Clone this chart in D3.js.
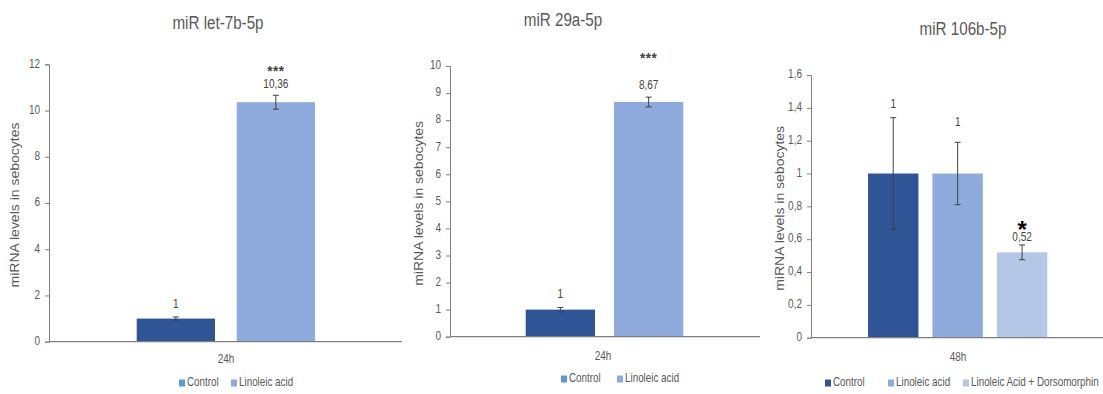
<!DOCTYPE html>
<html>
<head>
<meta charset="utf-8">
<script src="https://cdn.jsdelivr.net/npm/d3@7"></script>
<style>
  body { margin: 0; background: #fff; }
  svg text { font-family: "Liberation Sans", Arial, sans-serif; fill: #595959; }
</style>
</head>
<body>
<div id="chart"></div>
<script>
// Chart data
const titles = ["miR let-7b-5p", "miR 29a-5p", "miR 106b-5p"];
const timeLabels = ["24h", "24h", "48h"];
const seriesTwo = ["Control", "Linoleic acid"];
const seriesThree = ["Control", "Linoleic acid", "Linoleic Acid + Dorsomorphin"];

const let7bValues = [1, 10.36];
const let7bErrors = [0.07, 0.3];
const let7bLabels = ["1", "10,36"];
const let7bStars = ["", "***"];
const let7bTicks = [0, 2, 4, 6, 8, 10, 12];

const mir29aValues = [1, 8.67];
const mir29aErrors = [0.08, 0.18];
const mir29aLabels = ["1", "8,67"];
const mir29aStars = ["", "***"];
const mir29aTicks = [0, 1, 2, 3, 4, 5, 6, 7, 8, 9, 10];

const mir106bValues = [1, 1, 0.52];
const mir106bErrors = [0.34, 0.19, 0.045];
const mir106bLabels = ["1", "1", "0,52"];
const mir106bStars = ["", "", "*"];
const mir106bTicks = [0, 0.2, 0.4, 0.6, 0.8, 1, 1.2, 1.4, 1.6];

// Colours
const barColors = ["#2F5597", "#8FAADC", "#B4C7E7"];
const legendColors2 = ["#5B9BD5", "#8FAADC"];   // the two-series legends show a lighter swatch
const legendColors3 = ["#2F5597", "#8FAADC", "#B4C7E7"];

// the source figure is squeezed horizontally, so the text is too
const SQ = 0.8;

const width = 1103, height = 394;
const svg = d3.select("#chart").append("svg")
    .attr("width", width)
    .attr("height", height);

// Layout for each panel
const panels = [
    {
        title: titles[0], titleX: 218, titleY: 24,
        values: let7bValues, errors: let7bErrors, labels: let7bLabels, stars: let7bStars,
        ticks: let7bTicks, series: seriesTwo, legendColors: legendColors2, time: timeLabels[0],
        axisX: 49, axisEnd: 402, top: 64.3, bottom: 341.7,
        bars: [136.7, 315], gap: 21.7, labelGaps: [12, 11], starGap: 17,
        yLabelX: 16, timeX: 226, timeY: 360,
        legendY: 383, legendX: [179, 231]
    },
    {
        title: titles[1], titleX: 563, titleY: 21,
        values: mir29aValues, errors: mir29aErrors, labels: mir29aLabels, stars: mir29aStars,
        ticks: mir29aTicks, series: seriesTwo, legendColors: legendColors2, time: timeLabels[1],
        axisX: 450, axisEnd: 760, top: 66, bottom: 336.7,
        bars: [525.7, 683.3], gap: 19, labelGaps: [13, 11], starGap: 31.5,
        yLabelX: 420, timeX: 603, timeY: 357,
        legendY: 379, legendX: [561, 617]
    },
    {
        title: titles[2], titleX: 963, titleY: 30,
        values: mir106bValues, errors: mir106bErrors, labels: mir106bLabels, stars: mir106bStars,
        ticks: mir106bTicks, series: seriesThree, legendColors: legendColors3, time: timeLabels[2],
        axisX: 811, axisEnd: 1103, top: 75, bottom: 337.7,
        bars: [868, 1047.3], gap: 14, labelGaps: [13, 20, 7], starGap: 13,
        yLabelX: 781, timeX: 958, timeY: 358,
        legendY: 383, legendX: [825, 888, 963]
    }
];

const fmt = d => String(d).replace(".", ",");

// horizontal text, squeezed around its anchor point
function addText(g, x, y, str, size, anchor, color, sq) {
    return g.append("text")
        .attr("transform", `translate(${x},${y}) scale(${sq === undefined ? SQ : sq},1)`)
        .attr("text-anchor", anchor || "middle")
        .attr("dominant-baseline", "middle")
        .style("font-size", size + "px")
        .style("fill", color || "#595959")
        .text(str);
}

panels.forEach(p => {
    const g = svg.append("g");
    const n = p.values.length;

    const y = d3.scaleLinear()
        .domain([0, d3.max(p.ticks)])
        .range([p.bottom, p.top]);

    const span = p.bars[1] - p.bars[0] + p.gap;
    const inner = p.gap / (span / n);
    const x = d3.scaleBand()
        .domain(d3.range(n))
        .range([p.bars[0] - p.gap / 2, p.bars[1] + p.gap / 2])
        .paddingInner(inner)
        .paddingOuter(inner / 2);

    // Title
    addText(g, p.titleX, p.titleY, p.title, 19);

    // Y axis
    const yAxis = g.append("g")
        .attr("transform", `translate(${p.axisX},0)`)
        .call(d3.axisLeft(y).tickValues(p.ticks).tickFormat("").tickSize(4));
    yAxis.select(".domain").attr("stroke", "#7f7f7f");
    yAxis.selectAll(".tick line").attr("stroke", "#7f7f7f");
    p.ticks.forEach(t => addText(g, p.axisX - 9, y(t), fmt(t), 12.5, "end"));

    // Y label
    g.append("text")
        .attr("transform", `translate(${p.yLabelX},${(p.top + p.bottom) / 2 + 2}) rotate(-90) scale(1,${SQ + 0.05})`)
        .attr("text-anchor", "middle")
        .attr("dominant-baseline", "middle")
        .style("font-size", "14px")
        .text("miRNA levels in sebocytes");

    // Bars
    g.selectAll("rect.bar")
        .data(p.values)
        .join("rect")
        .attr("class", "bar")
        .attr("x", (d, i) => x(i))
        .attr("width", x.bandwidth())
        .attr("y", d => y(d))
        .attr("height", d => y(0) - y(d))
        .attr("fill", (d, i) => barColors[i]);

    // X axis line
    g.append("line")
        .attr("x1", p.axisX).attr("x2", p.axisEnd)
        .attr("y1", y(0)).attr("y2", y(0))
        .attr("stroke", "#7f7f7f")
        .attr("stroke-width", 1.2);

    // Error bars
    const err = g.append("g");
    p.values.forEach((v, i) => {
        const cx = x(i) + x.bandwidth() / 2;
        const hi = y(v + p.errors[i]), lo = y(v - p.errors[i]);
        err.append("line").attr("x1", cx).attr("x2", cx).attr("y1", hi).attr("y2", lo)
            .attr("stroke", "#404040").attr("stroke-width", 1);
        [hi, lo].forEach(yy => {
            err.append("line").attr("x1", cx - 3).attr("x2", cx + 3).attr("y1", yy).attr("y2", yy)
                .attr("stroke", "#404040").attr("stroke-width", 1);
        });
    });

    // Value labels and significance stars
    p.values.forEach((v, i) => {
        const cx = x(i) + x.bandwidth() / 2;
        const ly = y(v + p.errors[i]) - p.labelGaps[i];
        addText(g, cx, ly, p.labels[i], 12.5, "middle", "#404040");
        if (p.stars[i]) {
            const single = p.stars[i].length === 1;
            const size = single ? 24 : 15;
            addText(g, cx, ly - p.starGap + 0.55 * size, p.stars[i],
                    size, "middle", single ? "#000" : "#404040", single ? 1 : 0.9)
                .attr("dominant-baseline", null)
                .style("font-weight", "bold")
                .style("letter-spacing", single ? "0px" : "0.5px");
        }
    });

    // Group label
    addText(g, p.timeX, p.timeY, p.time, 12.5);

    // Legend
    p.series.forEach((s, i) => {
        const lx = p.legendX[i];
        g.append("rect")
            .attr("x", lx).attr("y", p.legendY - 3.5)
            .attr("width", 6).attr("height", 7)
            .attr("fill", p.legendColors[i]);
        addText(g, lx + 8, p.legendY, s, 12, "start", "#595959", 0.82);
    });
});
</script>
</body>
</html>
